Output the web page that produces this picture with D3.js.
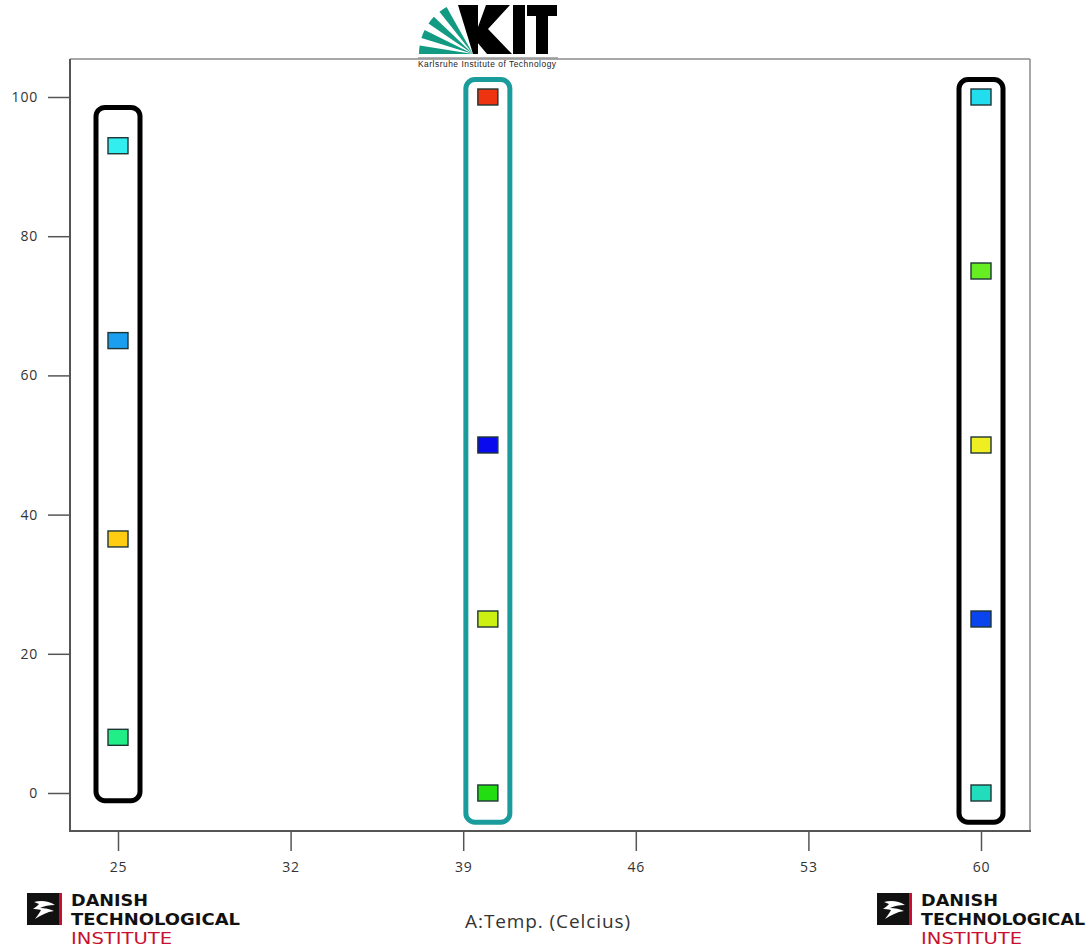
<!DOCTYPE html>
<html>
<head>
<meta charset="utf-8">
<script src="https://cdn.jsdelivr.net/npm/d3@7"></script>
<style>
  html, body { margin: 0; padding: 0; background: #fff; }
  svg { display: block; }
</style>
</head>
<body>
<script>
// ---- data ----
const xTicks = [25, 32, 39, 46, 53, 60];
const yTicks = [0, 20, 40, 60, 80, 100];
const pointTemp = [25, 25, 25, 25, 40, 40, 40, 40, 60, 60, 60, 60, 60];
const pointValue = [93, 65, 36.5, 8, 100, 50, 25, 0, 100, 75, 50, 25, 0];
const pointColors = ["#33eeee", "#1a9ff0", "#ffcc11", "#22ee88",
                     "#ee3311", "#0a0aee", "#ccf011", "#22dd11",
                     "#22ddee", "#66ee22", "#eeee22", "#0a44ee", "#22ddbb"];
const boxTemp = [25, 40, 60];
const boxLow = [-1.1, -4.2, -4.2];
const boxHigh = [98.5, 102.5, 102.5];
const boxColors = ["#000000", "#1a9c9c", "#000000"];
const xTitle = "A:Temp. (Celcius)";

// ---- layout ----
const W = 1089, H = 948;
const svg = d3.select("body").append("svg").attr("width", W).attr("height", H);

const frame = { left: 70, right: 1030, top: 59, bottom: 831 };
const x = d3.scaleLinear().domain([25, 60]).range([118, 981]);
const y = d3.scaleLinear().domain([0, 100]).range([793, 97]);
const tickFont = "Open Sans, sans-serif";

// frame
svg.append("line").attr("x1", frame.left).attr("x2", frame.right).attr("y1", frame.top).attr("y2", frame.top)
  .attr("stroke", "#8a8a8a").attr("stroke-width", 1.5);
svg.append("line").attr("x1", frame.right).attr("x2", frame.right).attr("y1", frame.top).attr("y2", frame.bottom)
  .attr("stroke", "#8a8a8a").attr("stroke-width", 1.5);
svg.append("line").attr("x1", frame.left).attr("x2", frame.left).attr("y1", frame.top).attr("y2", frame.bottom + 1)
  .attr("stroke", "#555").attr("stroke-width", 2);
svg.append("line").attr("x1", frame.left).attr("x2", frame.right + 1).attr("y1", frame.bottom).attr("y2", frame.bottom)
  .attr("stroke", "#555").attr("stroke-width", 2);

// y axis
const yAxis = svg.append("g").attr("transform", `translate(${frame.left},0)`)
  .call(d3.axisLeft(y).tickValues(yTicks).tickSize(22).tickPadding(10));
yAxis.select(".domain").remove();
yAxis.selectAll("line").attr("stroke", "#555").attr("stroke-width", 1.5);
yAxis.selectAll("text").attr("font-family", tickFont).attr("font-size", 14)
  .attr("letter-spacing", 0.8).attr("fill", "#333");

// x axis
const xAxis = svg.append("g").attr("transform", `translate(0,${frame.bottom})`)
  .call(d3.axisBottom(x).tickValues(xTicks).tickSize(20).tickPadding(11));
xAxis.select(".domain").remove();
xAxis.selectAll("line").attr("stroke", "#555").attr("stroke-width", 1.5);
xAxis.selectAll("text").attr("font-family", tickFont).attr("font-size", 14)
  .attr("letter-spacing", 0.8).attr("fill", "#333");

// axis title
svg.append("text").attr("x", 548).attr("y", 928)
  .attr("text-anchor", "middle").attr("font-family", tickFont)
  .attr("font-size", 19).attr("letter-spacing", 0.9).attr("fill", "#333").text(xTitle);

// annotation boxes
const bw = 22;
svg.append("g").selectAll("rect").data(boxTemp).join("rect")
  .attr("x", d => x(d) - bw)
  .attr("width", 2 * bw)
  .attr("y", (d, i) => y(boxHigh[i]))
  .attr("height", (d, i) => y(boxLow[i]) - y(boxHigh[i]))
  .attr("rx", 9).attr("ry", 9)
  .attr("fill", "none")
  .attr("stroke", (d, i) => boxColors[i])
  .attr("stroke-width", 5);

// points
const mw = 20, mh = 16;
svg.append("g").selectAll("rect").data(pointTemp).join("rect")
  .attr("x", d => x(d) - mw / 2)
  .attr("y", (d, i) => y(pointValue[i]) - mh / 2)
  .attr("width", mw).attr("height", mh)
  .attr("fill", (d, i) => pointColors[i])
  .attr("stroke", "#1e3535").attr("stroke-width", 1.4);

// ---- KIT logo ----
const kit = svg.append("g");
const cx = 473, cy = 54, R = 54;
const arc = d3.arc().innerRadius(0).outerRadius(R);
const wedges = [
  { a0: -Math.PI / 2 + 0.00, a1: -Math.PI / 2 + 0.16 },
  { a0: -Math.PI / 2 + 0.30, a1: -Math.PI / 2 + 0.46 },
  { a0: -Math.PI / 2 + 0.60, a1: -Math.PI / 2 + 0.76 },
  { a0: -Math.PI / 2 + 0.90, a1: -Math.PI / 2 + 1.06 }
];
kit.selectAll("path.w").data(wedges).join("path")
  .attr("transform", `translate(${cx},${cy})`)
  .attr("d", d => arc({ startAngle: d.a0, endAngle: d.a1 }))
  .attr("fill", "#129b82");
kit.append("rect").attr("x", 400).attr("y", 54).attr("width", 180).attr("height", 4).attr("fill", "#fff");
kit.append("path").attr("d", "M458,5 L478,5 L478,54 L473,54 Z").attr("fill", "#000");
kit.append("path").attr("d", "M486,5 L510,5 L488,29 L512,54 L487,54 L472,36 L478,27 Z").attr("fill", "#000");
kit.append("rect").attr("x", 513).attr("y", 5).attr("width", 12).attr("height", 49).attr("fill", "#000");
kit.append("rect").attr("x", 527).attr("y", 5).attr("width", 30).attr("height", 11).attr("fill", "#000");
kit.append("rect").attr("x", 536).attr("y", 5).attr("width", 12).attr("height", 49).attr("fill", "#000");
kit.append("line").attr("x1", 418).attr("x2", 558).attr("y1", 58).attr("y2", 58).attr("stroke", "#999").attr("stroke-width", 1.5);
kit.append("text").attr("x", 418).attr("y", 67)
  .attr("font-family", "Liberation Sans Narrow, Liberation Sans, sans-serif").attr("font-size", 8.4)
  .attr("textLength", 138).attr("lengthAdjust", "spacing")
  .attr("fill", "#222").text("Karlsruhe Institute of Technology");

// ---- Danish Technological Institute logos ----
function dti(x0, y0, techLen) {
  const g = svg.append("g").attr("transform", `translate(${x0},${y0})`);
  g.append("rect").attr("x", 0).attr("y", 0).attr("width", 32).attr("height", 32).attr("fill", "#111");
  g.append("rect").attr("x", 32).attr("y", 0).attr("width", 3).attr("height", 32).attr("fill", "#c8102e");
  g.append("path").attr("d", "M7,9 C14,7 22,8 28,12 C22,12 17,13 13,15 C18,15 23,16 27,18 C20,19 14,22 8,26 C11,22 13,19 14,17 C11,16 8,16 6,16 C9,14 11,12 12,11 Z")
    .attr("fill", "#fff");
  const tf = "DejaVu Sans, Open Sans, sans-serif";
  g.append("text").attr("x", 44).attr("y", 13).attr("font-family", tf).attr("font-weight", "bold")
    .attr("font-size", 16).attr("textLength", 77).attr("lengthAdjust", "spacingAndGlyphs")
    .attr("fill", "#111").text("DANISH");
  g.append("text").attr("x", 44).attr("y", 32).attr("font-family", tf).attr("font-weight", "bold")
    .attr("font-size", 16).attr("textLength", techLen).attr("lengthAdjust", "spacingAndGlyphs")
    .attr("fill", "#111").text("TECHNOLOGICAL");
  g.append("text").attr("x", 44).attr("y", 51).attr("font-family", tf)
    .attr("font-size", 16).attr("textLength", 101).attr("lengthAdjust", "spacingAndGlyphs")
    .attr("fill", "#c8102e").text("INSTITUTE");
}
dti(27, 893, 169);
dti(877, 893, 164);
</script>
</body>
</html>
